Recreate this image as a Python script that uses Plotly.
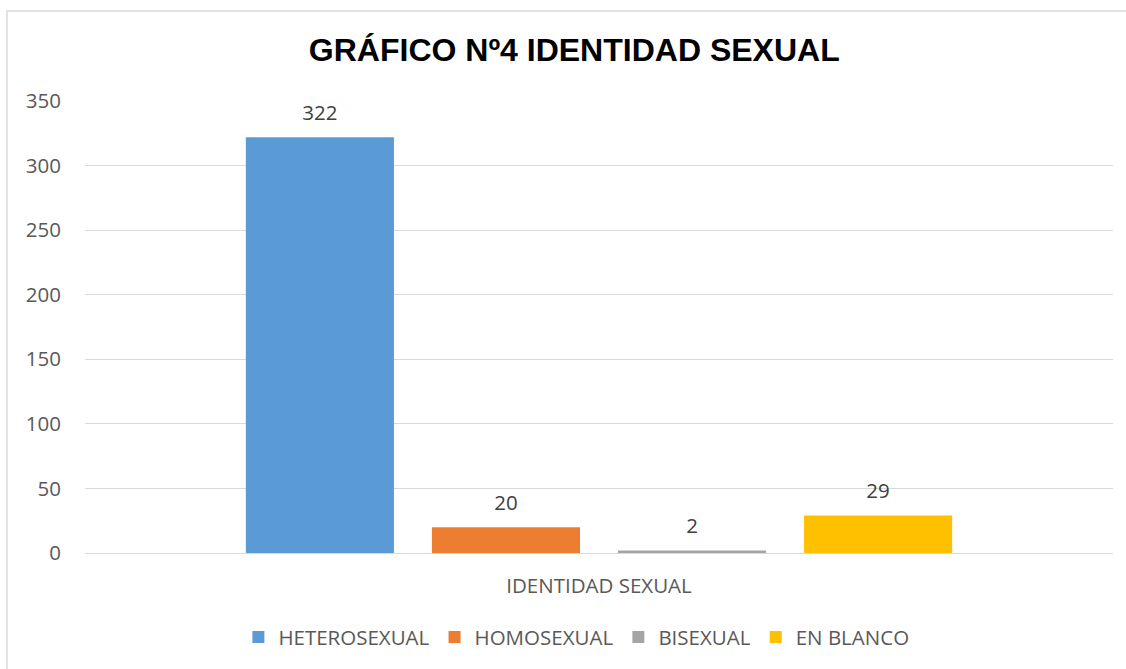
import plotly.graph_objects as go

categories = ["IDENTIDAD SEXUAL"]
series_names = ["HETEROSEXUAL", "HOMOSEXUAL", "BISEXUAL", "EN BLANCO"]
series_values = [[322], [20], [2], [29]]
colors = ["#5B9BD5", "#ED7D31", "#A5A5A5", "#FFC000"]
y_ticks = [0, 50, 100, 150, 200, 250, 300, 350]

FONT = "Open Sans, Liberation Sans, Arial"
fig = go.Figure()
for i, (name, vals, col) in enumerate(zip(series_names, series_values, colors)):
    fig.add_trace(go.Bar(
        x=categories, y=vals, name=name, marker=dict(color=col, line=dict(width=0)),
        offsetgroup=str(i), alignmentgroup="a",
    ))
for i, (name, vals) in enumerate(zip(series_names, series_values)):
    fig.add_trace(go.Scatter(
        x=categories, y=vals, mode="markers+text", showlegend=False, hoverinfo="skip",
        marker=dict(size=18, opacity=0), offsetgroup=str(i), alignmentgroup="a",
        text=[str(v) for v in vals], textposition="top center",
        textfont=dict(family=FONT, size=20.5, color="#404040"), cliponaxis=False,
    ))

fig.update_layout(
    width=1126, height=669,
    margin=dict(l=85, r=13, t=101, b=116),
    paper_bgcolor="white", plot_bgcolor="white",
    barmode="group", bargap=0.276, bargroupgap=0.204,
    scattermode="group", scattergap=0.276,
    title=dict(text="<b>GRÁFICO Nº4 IDENTIDAD SEXUAL</b>", x=0.51, xanchor="center",
               y=0.925, yanchor="middle",
               font=dict(family="Liberation Sans, Arial", size=32, color="black")),
    font=dict(family=FONT, color="#595959"),
    showlegend=True,
    legend=dict(orientation="h", x=0.478, xanchor="center", y=-0.186, yanchor="middle",
                font=dict(size=20.5, color="#595959"), itemwidth=30, traceorder="normal"),
)
fig.update_yaxes(range=[0, 350], tickvals=y_ticks, showgrid=True, gridcolor="#D9D9D9",
                 gridwidth=1, zeroline=True, zerolinecolor="#D9D9D9", zerolinewidth=1,
                 showline=False, tickfont=dict(size=20.5, color="#595959"),
                 ticklabelstandoff=23)
fig.update_xaxes(showline=False, showticklabels=True, tickfont=dict(size=20.5, color="#595959"),
                 ticklabelstandoff=18)

fig.add_shape(type="rect", xref="paper", yref="paper",
              x0=(7 - 85) / 1028, x1=(1140 - 85) / 1028,
              y0=(553 - 690) / 452, y1=(553 - 11) / 452,
              line=dict(color="#D9D9D9", width=1.5), fillcolor="rgba(0,0,0,0)", layer="below")

fig.write_html("out.html", post_script="document.body.style.margin='0px';",
               config={"displayModeBar": False})
